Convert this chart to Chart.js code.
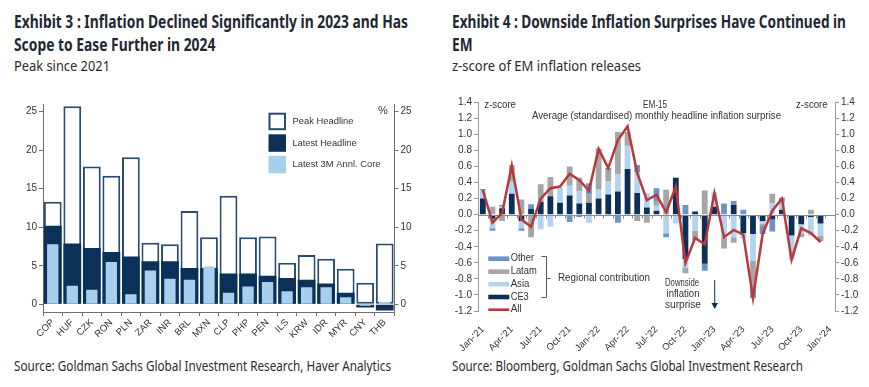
<!DOCTYPE html>
<html>
<head>
<meta charset="utf-8">
<script src="https://cdn.jsdelivr.net/npm/chart.js@4.4.0/dist/chart.umd.min.js"></script>
<style>
  body { margin: 0; background: #fff; width: 869px; height: 387px; position: relative; overflow: hidden; font-family: "Noto Sans", sans-serif; }
  .t { position: absolute; white-space: nowrap; transform-origin: 0 0; }
  .h { font-weight: 700; font-size: 18px; line-height: 18px; color: #1e2833; }
  .s { font-size: 15px; line-height: 15px; color: #2b2b2b; }
  canvas { position: absolute; }
</style>
</head>
<body>
<div class="t h" id="lt1" style="left:14px;top:12px" data-w="394">Exhibit 3 : Inflation Declined Significantly in 2023 and Has</div>
<div class="t h" style="left:14px;top:35px" data-same="lt1">Scope to Ease Further in 2024</div>
<div class="t s" style="left:14px;top:58px" data-w="96">Peak since 2021</div>
<div class="t s" style="left:14px;top:358px" data-w="377">Source: Goldman Sachs Global Investment Research, Haver Analytics</div>

<div class="t h" id="rt1" style="left:452px;top:12px" data-w="394">Exhibit 4 : Downside Inflation Surprises Have Continued in</div>
<div class="t h" style="left:452px;top:35px" data-same="rt1">EM</div>
<div class="t s" style="left:452px;top:58px" data-w="189">z-score of EM inflation releases</div>
<div class="t s" style="left:452px;top:358px" data-w="351">Source: Bloomberg, Goldman Sachs Global Investment Research</div>

<canvas id="peakChart" width="440" height="262" style="left:0;top:90px"></canvas>
<canvas id="surpriseChart" width="429" height="262" style="left:440px;top:90px"></canvas>

<script>
// Exhibit 3 data (%)
const currencies = ['COP', 'HUF', 'CZK', 'RON', 'PLN', 'ZAR', 'INR', 'BRL', 'MXN', 'CLP', 'PHP', 'PEN', 'ILS', 'KRW', 'IDR', 'MYR', 'CNY', 'THB'];
const peakHeadline = [13.3, 25.7, 17.9, 16.7, 19.1, 8.0, 7.8, 12.1, 8.7, 14.1, 8.7, 8.8, 5.4, 6.4, 5.9, 4.6, 2.8, 7.9];
const latestHeadline = [10.2, 7.9, 7.3, 6.8, 6.2, 5.6, 5.6, 4.7, 4.7, 4.0, 4.0, 3.7, 3.4, 3.2, 2.7, 1.5, -0.4, -0.8];
const latestCore = [7.8, 2.4, 1.9, 5.5, 1.3, 4.4, 3.3, 3.2, 4.9, 1.5, 2.3, 2.9, 1.7, 2.2, 2.2, 0.9, -0.2, 0.3];
const peakTicks = [0, 5, 10, 15, 20, 25];

// Exhibit 4 data (z-score), Jan-21 .. Dec-23
const months = ["Jan-'21", "Feb-'21", "Mar-'21", "Apr-'21", "May-'21", "Jun-'21", "Jul-'21", "Aug-'21", "Sep-'21", "Oct-'21", "Nov-'21", "Dec-'21",
  "Jan-'22", "Feb-'22", "Mar-'22", "Apr-'22", "May-'22", "Jun-'22", "Jul-'22", "Aug-'22", "Sep-'22", "Oct-'22", "Nov-'22", "Dec-'22",
  "Jan-'23", "Feb-'23", "Mar-'23", "Apr-'23", "May-'23", "Jun-'23", "Jul-'23", "Aug-'23", "Sep-'23", "Oct-'23", "Nov-'23", "Dec-'23",
  "Jan-'24"];
const ce3 = [0.20, -0.05, 0.08, 0.26, -0.08, 0.07, 0.16, 0.23, 0.15, 0.24, 0.14, 0.15,
  0.20, 0.25, 0.29, 0.57, 0.27, 0.09, 0.05, 0, 0.46, -0.55, 0.04, -0.61,
  0.10, 0, 0.12, -0.23, -0.24, -0.08, -0.06, 0.06, -0.26, -0.12, -0.03, -0.11];
const asia = [0.10, -0.12, 0.02, 0.15, -0.09, 0, -0.18, -0.15, 0.19, 0.12, 0.15, -0.10,
  0.12, 0.17, 0.21, 0.29, 0.26, 0.18, 0.06, -0.23, -0.11, -0.11, -0.20, 0,
  0.18, -0.28, -0.28, -0.07, -0.33, -0.03, 0.14, 0.10, -0.30, -0.12, -0.23, -0.15];
const latam = [0, 0.10, -0.08, 0.21, 0.19, -0.28, 0.22, 0.24, 0, 0.24, 0.17, 0.10,
  0.48, 0.13, 0.53, 0.17, -0.08, -0.10, 0.06, 0.31, 0, -0.07, -0.12, 0.30,
  0, -0.14, -0.07, 0, -0.37, -0.03, 0.12, 0, 0, -0.04, 0.06, -0.07];
const other = [0.02, -0.03, 0.02, 0, -0.03, 0.06, 0, 0, 0, -0.09, -0.03, 0.14,
  0.02, 0.03, -0.10, 0, 0.09, 0, 0.16, -0.05, 0, 0.12, 0, -0.09,
  0, 0.14, 0.05, 0.06, -0.10, -0.10, -0.15, 0.05, 0, 0, 0, 0];
const allRegions = [0.31, -0.10, 0.02, 0.61, -0.06, -0.15, 0.20, 0.33, 0.35, 0.51, 0.43, 0.30,
  0.82, 0.58, 0.93, 1.10, 0.52, 0.18, 0.25, 0.03, 0.35, -0.60, -0.29, -0.37,
  0.27, -0.28, -0.19, -0.25, -1.04, -0.24, 0.05, 0.20, -0.56, -0.17, -0.23, -0.34];

// squeeze the header/footer texts to the widths of the original condensed font
const scales = {};
document.querySelectorAll('.t[data-w]').forEach(function (el) {
  const k = +el.dataset.w / el.getBoundingClientRect().width;
  el.style.transform = 'scaleX(' + k + ')';
  if (el.id) scales[el.id] = k;
});
document.querySelectorAll('.t[data-same]').forEach(function (el) {
  el.style.transform = 'scaleX(' + scales[el.dataset.same] + ')';
});

Chart.defaults.font.family = "'Liberation Sans', Arial, sans-serif";
Chart.defaults.font.size = 10;
Chart.defaults.color = '#333';
Chart.defaults.animation = false;

const fixW = w => function (scale) { scale.width = w; };
const fixH = h => function (scale) { scale.height = h; };

function fitText(ctx, s, x, y, w, align) {
  const k = w ? w / ctx.measureText(s).width : 1;
  ctx.save();
  ctx.translate(x, y);
  ctx.scale(k, 1);
  ctx.textAlign = align || 'left';
  ctx.textBaseline = 'middle';
  ctx.fillText(s, 0, 0);
  ctx.restore();
}

const peakNotes = {
  id: 'peakNotes',
  afterDraw(chart) {
    const ctx = chart.ctx;
    ctx.save();
    // legend boxes
    ctx.fillStyle = '#fff';
    ctx.fillRect(268.5, 22.7, 17.5, 17.5);
    ctx.strokeStyle = '#2a4b70';
    ctx.lineWidth = 2;
    ctx.strokeRect(269.5, 23.7, 15.5, 15.5);
    ctx.fillStyle = '#0b3159';
    ctx.fillRect(268.5, 44.3, 17.5, 17.5);
    ctx.fillStyle = '#a9cfee';
    ctx.fillRect(268.5, 65.8, 17.5, 17.5);
    ctx.fillStyle = '#333';
    ctx.font = "9.5px 'Liberation Sans', Arial, sans-serif";
    fitText(ctx, 'Peak Headline', 292.5, 31.5, 61);
    fitText(ctx, 'Latest Headline', 292.5, 53, 64);
    fitText(ctx, 'Latest 3M Annl. Core', 292.5, 74.5, 88);
    ctx.font = "11px 'Liberation Sans', Arial, sans-serif";
    fitText(ctx, '%', 383, 21, 0, 'center');
    ctx.restore();
  }
};

const peakAxis = {
  min: -1, max: 26,
  afterBuildTicks: s => { s.ticks = peakTicks.map(v => ({ value: v })); },
  grid: { drawOnChartArea: false, tickLength: 4, color: '#6f6f6f' },
  border: { color: '#6f6f6f' },
  ticks: { padding: 2 }
};

new Chart(document.getElementById('peakChart'), {
  type: 'bar',
  data: {
    labels: currencies,
    datasets: [
      { label: 'Latest 3M Annl. Core', data: latestCore, backgroundColor: '#a9cfee', barPercentage: 0.58, categoryPercentage: 1, grouped: false, order: 0 },
      { label: 'Latest Headline', data: latestHeadline, backgroundColor: '#0b3159', barPercentage: 0.91, categoryPercentage: 1, grouped: false, order: 1 },
      { label: 'Peak Headline', data: peakHeadline, backgroundColor: '#fff', borderColor: '#2a4b70', borderWidth: 2, borderSkipped: false, barPercentage: 0.91, categoryPercentage: 1, grouped: false, order: 2 }
    ]
  },
  options: {
    responsive: false,
    layout: { padding: { top: 14 } },
    plugins: { legend: { display: false }, tooltip: { enabled: false } },
    scales: {
      x: {
        grid: { drawOnChartArea: false, offset: true, tickLength: 4, color: '#6f6f6f' },
        border: { color: '#6f6f6f' },
        ticks: { autoSkip: false, maxRotation: 45, minRotation: 45, padding: 1, font: { size: 9.5 } },
        afterFit: fixH(40)
      },
      y: Object.assign({}, peakAxis, { afterFit: fixW(43) }),
      y2: Object.assign({}, peakAxis, { position: 'right', afterFit: fixW(45.5) })
    }
  },
  plugins: [peakNotes]
});

const surpriseNotes = {
  id: 'surpriseNotes',
  afterDatasetDraw(chart, args) {
    // zero line sits over the bars but under the red line
    if (args.index !== 1) return;
    const ctx = chart.ctx, area = chart.chartArea;
    const y0 = Math.round(chart.scales.y.getPixelForValue(0)) + 0.5;
    const xs = chart.scales.x;
    const step = xs.getPixelForValue(1) - xs.getPixelForValue(0);
    ctx.save();
    ctx.strokeStyle = '#8a8a8a';
    ctx.lineWidth = 1;
    ctx.beginPath();
    ctx.moveTo(area.left, y0);
    ctx.lineTo(area.right, y0);
    for (let i = 0; i <= months.length; i++) {
      const x = Math.round(area.left + i * step) + 0.5;
      ctx.moveTo(x, y0);
      ctx.lineTo(x, y0 + 3);
    }
    ctx.stroke();
    ctx.restore();
  },
  afterDraw(chart) {
    const ctx = chart.ctx;
    ctx.save();
    ctx.fillStyle = '#333';
    ctx.font = "10px 'Liberation Sans', Arial, sans-serif";
    fitText(ctx, 'z-score', 44.3, 15.3, 31.7);
    fitText(ctx, 'z-score', 356, 15.3, 31.7);
    fitText(ctx, 'EM-15', 203, 15, 24);
    fitText(ctx, 'Average (standardised) monthly headline inflation surprise', 92, 26.7, 249);

    // legend
    const items = [
      ['Other', '#6d93c3', 168.7, 23.3],
      ['Latam', '#a6a6a6', 181.7, 26],
      ['Asia', '#b2d4f0', 194.2, 18.7],
      ['CE3', '#0b2f58', 207, 18],
      ['All', '#b8383b', 219.7, 11]
    ];
    items.forEach(function (it) {
      ctx.fillStyle = it[1];
      if (it[0] === 'All') ctx.fillRect(48.3, it[2] - 1.3, 21, 2.6);
      else ctx.fillRect(48.3, it[2] - 2.3, 21, 4.6);
      ctx.fillStyle = '#333';
      fitText(ctx, it[0], 70.7, it[2], it[3]);
    });

    // bracket
    ctx.strokeStyle = '#555';
    ctx.lineWidth = 1;
    ctx.beginPath();
    ctx.moveTo(101.5, 166.5); ctx.lineTo(106.5, 166.5); ctx.lineTo(106.5, 207.5); ctx.lineTo(101.5, 207.5);
    ctx.moveTo(106.5, 188.5); ctx.lineTo(110.5, 188.5);
    ctx.stroke();
    fitText(ctx, 'Regional contribution', 118, 188, 92);

    fitText(ctx, 'Downside', 242, 193.3, 34, 'center');
    fitText(ctx, 'inflation', 243, 204.2, 33, 'center');
    fitText(ctx, 'surprise', 243, 215.7, 36, 'center');

    // arrow
    ctx.strokeStyle = '#0b2f58';
    ctx.fillStyle = '#0b2f58';
    ctx.beginPath();
    ctx.moveTo(274.7, 190); ctx.lineTo(274.7, 214);
    ctx.stroke();
    ctx.beginPath();
    ctx.moveTo(271.5, 213); ctx.lineTo(278, 213); ctx.lineTo(274.7, 219);
    ctx.closePath();
    ctx.fill();
    ctx.restore();
  }
};

const zTick = v => (Math.abs(v) < 1e-9 ? 0 : v).toFixed(1);
const surpriseAxis = {
  min: -1.2, max: 1.4,
  ticks: { stepSize: 0.2, callback: zTick, padding: 2 },
  grid: { drawOnChartArea: false, tickLength: 4, color: '#9a9a9a' },
  border: { color: '#9a9a9a' }
};
const barStyle = { barPercentage: 0.6, categoryPercentage: 1, order: 1 };

new Chart(document.getElementById('surpriseChart'), {
  type: 'bar',
  data: {
    labels: months,
    datasets: [
      { type: 'line', label: 'All', data: allRegions, borderColor: '#b8383b', borderWidth: 2.5, pointRadius: 0, order: 0 },
      Object.assign({ label: 'CE3', data: ce3, backgroundColor: '#0b2f58' }, barStyle),
      Object.assign({ label: 'Asia', data: asia, backgroundColor: '#b2d4f0' }, barStyle),
      Object.assign({ label: 'Latam', data: latam, backgroundColor: '#a6a6a6' }, barStyle),
      Object.assign({ label: 'Other', data: other, backgroundColor: '#6d93c3' }, barStyle)
    ]
  },
  options: {
    responsive: false,
    layout: { padding: { top: 12.3 } },
    plugins: { legend: { display: false }, tooltip: { enabled: false } },
    scales: {
      x: {
        stacked: true, offset: true,
        grid: { display: false },
        border: { display: false },
        ticks: { autoSkip: false, maxRotation: 45, minRotation: 45, padding: 5, font: { size: 9.5 }, callback: (v, i) => i % 3 === 0 ? months[i] : '' },
        afterFit: fixH(41)
      },
      y: Object.assign({}, surpriseAxis, { stacked: true, afterFit: fixW(38) }),
      y2: Object.assign({}, surpriseAxis, { position: 'right', afterFit: fixW(34) })
    }
  },
  plugins: [surpriseNotes]
});
</script>
</body>
</html>
